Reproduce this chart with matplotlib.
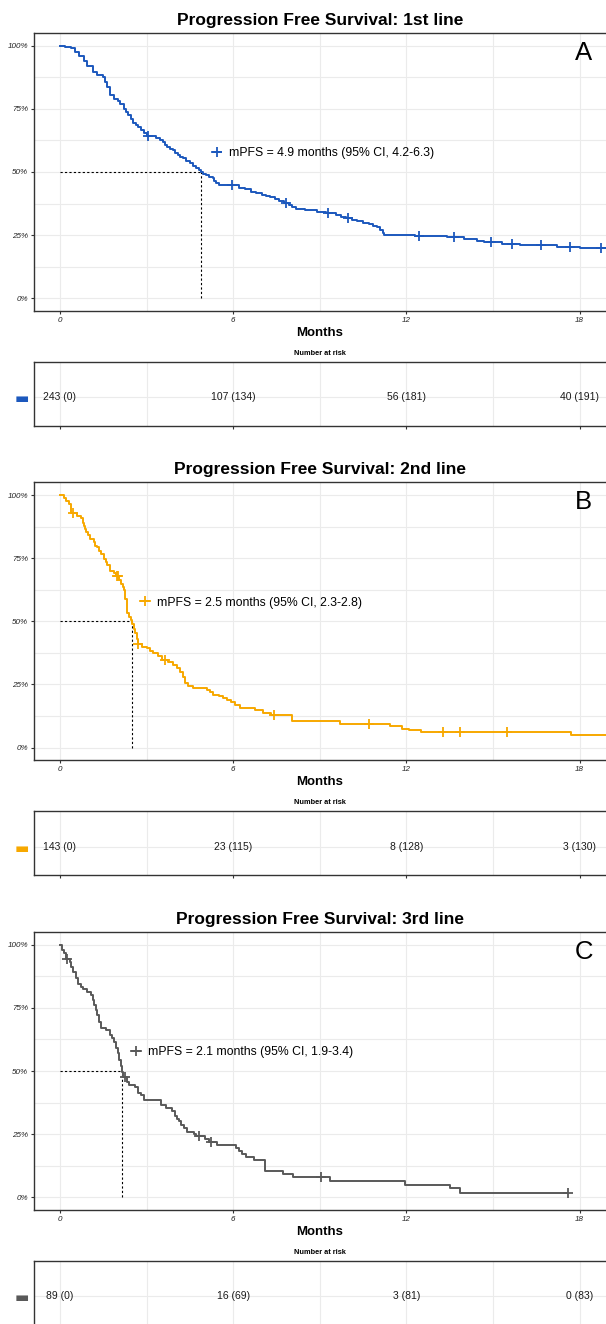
import numpy as np
import matplotlib.pyplot as plt
from matplotlib.lines import Line2D
from matplotlib.ticker import MultipleLocator, FuncFormatter

plt.rcParams['font.family'] = ['Liberation Sans', 'DejaVu Sans']

# ---- values ----
titles = ['Progression Free Survival: 1st line',
          'Progression Free Survival: 2nd line',
          'Progression Free Survival: 3rd line']
tags = ['A', 'B', 'C']
colors = ['#1c58bd', '#f7a800', '#595959']
labels = ['mPFS = 4.9 months (95% CI, 4.2-6.3)',
          'mPFS = 2.5 months (95% CI, 2.3-2.8)',
          'mPFS = 2.1 months (95% CI, 1.9-3.4)']

# 1st line: step times (months) and survival after each step
a_time = [0, 0.19, 0.37, 0.54, 0.65, 0.82, 0.94, 1.15, 1.28, 1.49, 1.57, 1.62, 1.74, 1.86,
          2.0, 2.09, 2.22, 2.30, 2.37, 2.45, 2.54, 2.62, 2.71, 2.80, 2.91, 3.0, 3.34, 3.45,
          3.57, 3.65, 3.71, 3.80, 3.92, 4.0, 4.09, 4.17, 4.26, 4.35, 4.49, 4.60, 4.72, 4.81,
          4.89, 4.97, 5.06, 5.18, 5.29, 5.35, 5.41, 5.52, 6.21, 6.40, 6.62, 6.80, 7.0, 7.15,
          7.29, 7.45, 7.6, 7.75, 7.95, 8.05, 8.16, 8.5, 8.9, 9.2, 9.55, 9.75, 9.9, 10.1, 10.3,
          10.5, 10.7, 10.85, 10.97, 11.1, 11.18, 11.24, 12.3, 13.4, 14.0, 14.45, 14.7, 15.3,
          15.92, 17.2, 18.0]
a_surv = [1.0, 0.996, 0.99, 0.976, 0.96, 0.94, 0.92, 0.897, 0.884, 0.877, 0.855, 0.838, 0.805,
          0.79, 0.78, 0.77, 0.75, 0.738, 0.726, 0.71, 0.693, 0.685, 0.677, 0.666, 0.656, 0.641,
          0.633, 0.627, 0.62, 0.608, 0.598, 0.592, 0.587, 0.577, 0.567, 0.56, 0.554, 0.545,
          0.534, 0.524, 0.514, 0.506, 0.499, 0.493, 0.488, 0.481, 0.475, 0.465, 0.455, 0.449,
          0.438, 0.432, 0.421, 0.416, 0.41, 0.405, 0.401, 0.393, 0.386, 0.379, 0.37, 0.362,
          0.355, 0.349, 0.342, 0.336, 0.328, 0.321, 0.316, 0.31, 0.305, 0.3, 0.293, 0.287,
          0.281, 0.27, 0.26, 0.25, 0.245, 0.241, 0.235, 0.228, 0.222, 0.216, 0.21, 0.205, 0.198]
a_cens = [3.06, 5.96, 7.83, 9.30, 9.97, 12.44, 13.65, 14.92, 15.65, 16.66, 17.66, 18.73]
a_last = 19.5

# 2nd line
b_time = [0, 0.14, 0.22, 0.31, 0.40, 0.6, 0.74, 0.80, 0.83, 0.88, 0.92, 0.98, 1.03, 1.17,
          1.22, 1.29, 1.36, 1.43, 1.54, 1.58, 1.63, 1.72, 1.89, 1.95, 2.05, 2.11, 2.17, 2.23,
          2.27, 2.31, 2.34, 2.40, 2.46, 2.49, 2.55, 2.61, 2.66, 2.70, 2.85, 3.01, 3.12, 3.24,
          3.40, 3.55, 3.75, 3.93, 4.05, 4.16, 4.25, 4.33, 4.45, 4.62, 5.08, 5.2, 5.31, 5.5,
          5.66, 5.8, 5.94, 6.05, 6.22, 6.76, 7.02, 7.3, 8.03, 9.70, 11.44, 11.84, 12.1, 12.51,
          17.7]
b_surv = [1.0, 0.99, 0.976, 0.963, 0.93, 0.916, 0.908, 0.89, 0.878, 0.865, 0.852, 0.84, 0.826,
          0.813, 0.80, 0.793, 0.78, 0.767, 0.747, 0.735, 0.721, 0.699, 0.692, 0.678, 0.662,
          0.649, 0.636, 0.623, 0.59, 0.56, 0.531, 0.518, 0.505, 0.491, 0.47, 0.452, 0.43, 0.41,
          0.40, 0.393, 0.383, 0.374, 0.362, 0.347, 0.34, 0.328, 0.315, 0.301, 0.28, 0.256,
          0.245, 0.236, 0.229, 0.22, 0.21, 0.203, 0.197, 0.19, 0.18, 0.17, 0.158, 0.150, 0.135,
          0.128, 0.106, 0.095, 0.084, 0.075, 0.068, 0.061, 0.049]
b_cens = [0.46, 1.98, 2.01, 2.72, 3.64, 7.42, 10.70, 13.28, 13.85, 15.48]
b_last = 19.5

# 3rd line
c_time = [0, 0.08, 0.15, 0.22, 0.34, 0.40, 0.46, 0.55, 0.63, 0.72, 0.80, 0.95, 1.09, 1.14,
          1.18, 1.24, 1.29, 1.35, 1.41, 1.6, 1.75, 1.80, 1.86, 1.93, 2.0, 2.06, 2.11, 2.14,
          2.18, 2.33, 2.4, 2.59, 2.69, 2.8, 2.91, 3.49, 3.66, 3.89, 4.0, 4.05, 4.11, 4.2, 4.29,
          4.4, 4.63, 4.7, 5.03, 5.15, 5.45, 6.1, 6.2, 6.3, 6.43, 6.72, 7.10, 7.73, 8.06, 9.36,
          11.96, 13.51, 13.86]
c_surv = [1.0, 0.978, 0.966, 0.943, 0.932, 0.91, 0.891, 0.87, 0.845, 0.834, 0.826, 0.813,
          0.802, 0.78, 0.76, 0.74, 0.72, 0.696, 0.672, 0.662, 0.642, 0.63, 0.616, 0.593, 0.57,
          0.545, 0.518, 0.498, 0.478, 0.458, 0.446, 0.435, 0.413, 0.406, 0.384, 0.367, 0.354,
          0.341, 0.321, 0.31, 0.301, 0.288, 0.275, 0.258, 0.249, 0.241, 0.229, 0.217, 0.208,
          0.195, 0.183, 0.17, 0.158, 0.147, 0.105, 0.092, 0.080, 0.063, 0.049, 0.036, 0.016]
c_cens = [0.24, 2.25, 4.83, 5.24, 9.04, 17.6]
c_last = 17.6

risk_times = [0, 6, 12, 18]
a_risk = [243, 107, 56, 40]
a_out = [0, 134, 181, 191]
b_risk = [143, 23, 8, 3]
b_out = [0, 115, 128, 130]
c_risk = [89, 16, 3, 0]
c_out = [0, 69, 81, 83]

curves = [(a_time, a_surv, a_cens, a_last), (b_time, b_surv, b_cens, b_last),
          (c_time, c_surv, c_cens, c_last)]
risks = [(a_risk, a_out), (b_risk, b_out), (c_risk, c_out)]

# ---- layout (pixels) ----
W, H = 606, 1324
offsets = [0, 449.3, 899]
legend_x = [0.311, 0.186, 0.170]
grid_c = '#ebebeb'
edge_c = '#333333'

fig = plt.figure(figsize=(W / 100, H / 100), dpi=100)


def px_axes(left, top, right, bottom):
    return fig.add_axes([left / W, 1 - bottom / H, (right - left) / W, (bottom - top) / H])


for i in range(3):
    off = offsets[i]
    t, s, cens, last = curves[i]
    t = np.array(t)
    s = np.array(s)
    col = colors[i]

    ax = px_axes(33.6, 33.1 + off, 606, 310.9 + off)
    ax.step(np.r_[t, last], np.r_[s, s[-1]], where='post', color=col, lw=1.4, zorder=3)
    cs = s[np.searchsorted(t, cens, side='right') - 1]
    ax.plot(cens, cs, ls='none', marker='+', ms=7, mew=1.3, color=col, zorder=4)

    med = t[np.argmax(s <= 0.5)]
    ax.plot([0, med], [0.5, 0.5], color='black', ls=(0, (2, 2)), lw=0.8, zorder=2)
    ax.plot([med, med], [0, 0.5], color='black', ls=(0, (2, 2)), lw=0.8, zorder=2)

    ax.set_xlim(-0.91, 18.91)
    ax.set_ylim(-0.05, 1.05)
    ax.xaxis.set_major_locator(MultipleLocator(6))
    ax.xaxis.set_minor_locator(MultipleLocator(3))
    ax.yaxis.set_major_locator(MultipleLocator(0.25))
    ax.yaxis.set_minor_locator(MultipleLocator(0.125))
    ax.yaxis.set_major_formatter(FuncFormatter(lambda v, p: f'{int(round(v * 100))}%'))
    ax.grid(True, which='both', color=grid_c, lw=0.8, zorder=0)
    ax.tick_params(which='major', length=2.5, width=0.8, color=edge_c, labelsize=5.8,
                   labelcolor='#222222')
    ax.tick_params(axis='x', pad=1.8)
    ax.tick_params(axis='y', pad=1.5)
    ax.tick_params(which='minor', length=0)
    for lab in ax.get_xticklabels() + ax.get_yticklabels():
        lab.set_fontstyle('italic')
    for side in ['left', 'top', 'bottom']:
        ax.spines[side].set_color(edge_c)
        ax.spines[side].set_linewidth(1.0)
    ax.spines['right'].set_visible(False)

    ax.text(0.961, 0.93, tags[i], transform=ax.transAxes, ha='center', va='center',
            fontsize=18.5, color='black')

    h = Line2D([], [], color=col, marker='+', lw=1.3, ms=7, mew=1.3)
    ax.legend([h], [labels[i]], loc='center left', bbox_to_anchor=(legend_x[i], 0.567),
              frameon=False, handlelength=0.8, handletextpad=0.6, fontsize=8.8,
              borderpad=0, borderaxespad=0)

    fig.text(319.8 / W, 1 - (25 + off) / H, titles[i], ha='center', va='baseline',
             fontsize=12.5, fontweight='bold')
    fig.text(319.8 / W, 1 - (336 + off) / H, 'Months', ha='center', va='baseline',
             fontsize=9.5, fontweight='bold')
    fig.text(319.8 / W, 1 - (355 + off) / H, 'Number at risk', ha='center', va='baseline',
             fontsize=5.3, fontweight='bold')

    # risk table
    rt = px_axes(33.6, 362 + off, 606, 426 + off)
    n_risk, n_out = risks[i]
    for x, n, o in zip(risk_times, n_risk, n_out):
        rt.text(x, 0, f'{n} ({o})', ha='center', va='center', fontsize=7.5, color='#1a1a1a')
    rt.set_xlim(-0.91, 18.91)
    rt.set_ylim(-0.45, 0.55)
    rt.xaxis.set_major_locator(MultipleLocator(6))
    rt.xaxis.set_minor_locator(MultipleLocator(3))
    rt.set_xticklabels([])
    rt.set_yticks([0])
    rt.set_yticklabels(['\u25ac'], color=col, fontsize=11, family='DejaVu Sans')
    rt.grid(True, which='both', color=grid_c, lw=0.8, zorder=0)
    rt.tick_params(axis='x', which='major', length=2.5, width=0.8, color=edge_c)
    rt.tick_params(axis='y', length=0, pad=3.0)
    rt.tick_params(which='minor', length=0)
    for side in ['left', 'top', 'bottom']:
        rt.spines[side].set_color(edge_c)
        rt.spines[side].set_linewidth(1.0)
    rt.spines['right'].set_visible(False)

fig.savefig('out.png', dpi=100)
